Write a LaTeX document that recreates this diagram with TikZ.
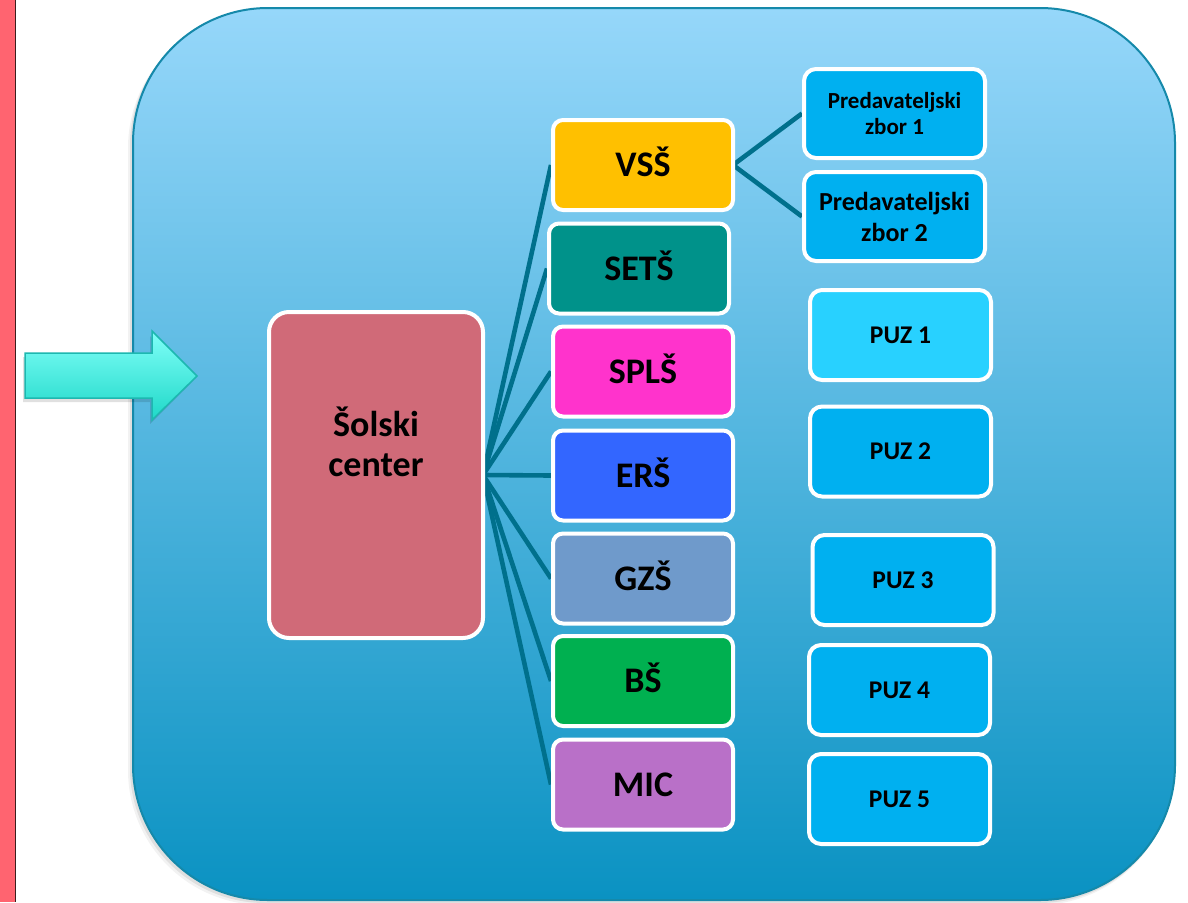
\documentclass[tikz,border=0pt]{standalone}
\usepackage{fontspec}
\setmainfont{Carlito}
\pgfdeclarelayer{bg}
\pgfdeclarelayer{links}
\pgfsetlayers{bg,links,main}
\definecolor{pinkstrip}{RGB}{255,100,112}
\definecolor{stripline}{RGB}{60,30,30}
\definecolor{paneltop}{RGB}{150,215,250}
\definecolor{panelbot}{RGB}{10,146,194}
\definecolor{panelline}{RGB}{21,137,170}
\definecolor{arrowtop}{RGB}{128,255,248}
\definecolor{arrowbot}{RGB}{30,216,200}
\definecolor{arrowline}{RGB}{29,184,176}
\definecolor{linkcol}{RGB}{0,112,140}
\definecolor{vsscol}{RGB}{255,192,0}
\definecolor{setscol}{RGB}{0,146,138}
\definecolor{splscol}{RGB}{255,51,204}
\definecolor{erscol}{RGB}{51,102,255}
\definecolor{gzscol}{RGB}{111,154,203}
\definecolor{bscol}{RGB}{0,176,80}
\definecolor{miccol}{RGB}{185,112,200}
\definecolor{sccol}{RGB}{208,106,120}
\definecolor{cyanbox}{RGB}{0,176,240}
\definecolor{cyanlight}{RGB}{40,209,255}
\begin{document}
\begin{tikzpicture}[x=1pt,y=-1pt,
  tile/.style={draw=white, line width=4pt, rounded corners=10pt, inner sep=0pt},
  school/.style={tile, minimum width=180pt, minimum height=90pt,
    font=\fontsize{36}{40}\selectfont\bfseries, text height=23.2pt, text depth=0pt},
  puz/.style={tile, rounded corners=12pt, fill=cyanbox, minimum width=181pt, minimum height=90pt,
    font=\fontsize{25.5}{30}\selectfont\bfseries, text height=16.4pt, text depth=0pt},
  zbor/.style={tile, rounded corners=12pt, fill=cyanbox, minimum width=181pt, minimum height=89pt, align=center},
  link/.style={draw=linkcol, line width=4.6pt}
]
\useasboundingbox (0,0) rectangle (1188,902);
\begin{pgfonlayer}{bg}
  \fill[white] (0,0) rectangle (1188,902);
  \fill[pinkstrip] (0,0) rectangle (15,902);
  \draw[stripline, line width=1.2pt] (15.6,0) -- (15.6,902);
  % shadow of panel
  \fill[black, opacity=0.08, rounded corners=135pt] (130,11) rectangle (1174,903);
  \fill[black, opacity=0.05, rounded corners=135pt] (128,13) rectangle (1173,905);
  \path[rounded corners=135pt, top color=paneltop, bottom color=panelbot, draw=panelline, line width=2pt]
    (133,8) rectangle (1175,900);
  % entry arrow
  \fill[black, opacity=0.12] (23,357) -- (150,357) -- (150,336) -- (194,380) -- (150,424) -- (150,402) -- (23,402) -- cycle;
  \path[top color=arrowtop, bottom color=arrowbot, draw=arrowline, line width=1.5pt, line join=miter]
    (25,353) -- (152,353) -- (152,331) -- (197,376) -- (152,420) -- (152,398) -- (25,398) -- cycle;
\end{pgfonlayer}

% main node
\node[tile, rounded corners=20pt, fill=sccol, minimum width=214pt, minimum height=326pt] (sc) at (376,475) {};
\node[font=\fontsize{36}{40}\selectfont\bfseries, align=center, inner sep=0pt] (sclabel) at (376,442) {Šolski\\center};

% schools
\node[school, fill=vsscol] (vss) at (643,165) {VSŠ};
\node[school, fill=setscol] (sets) at (639,268.5) {SETŠ};
\node[school, fill=splscol] (spls) at (643,371.5) {SPLŠ};
\node[school, fill=erscol] (ers) at (643,475.5) {ERŠ};
\node[school, fill=gzscol] (gzs) at (643,578.5) {GZŠ};
\node[school, fill=bscol] (bs) at (643,681) {BŠ};
\node[school, fill=miccol] (mic) at (643,784.5) {MIC};

% lecturer groups
\node[zbor, font=\fontsize{23}{26}\selectfont\bfseries] (z1) at (894.5,113.5) {Predavateljski\\zbor 1};
\node[zbor, font=\fontsize{26}{31}\selectfont\bfseries] (z2) at (894.5,216.5) {Predavateljski\\zbor 2};

% PUZ
\node[puz, fill=cyanlight] (p1) at (900.5,335) {PUZ 1};
\node[puz] (p2) at (900.5,451.5) {PUZ 2};
\node[puz] (p3) at (903,580) {PUZ 3};
\node[puz] (p4) at (899.5,690) {PUZ 4};
\node[puz] (p5) at (899.5,799) {PUZ 5};

\begin{pgfonlayer}{links}
  \foreach \t in {vss,sets,spls,ers,gzs,bs,mic}
    \draw[link] ([xshift=-2pt]sc.east) -- (\t.west);
  \draw[link] ([xshift=-2pt]vss.east) -- (z1.west);
  \draw[link] ([xshift=-2pt]vss.east) -- (z2.west);
\end{pgfonlayer}
\end{tikzpicture}
\end{document}
